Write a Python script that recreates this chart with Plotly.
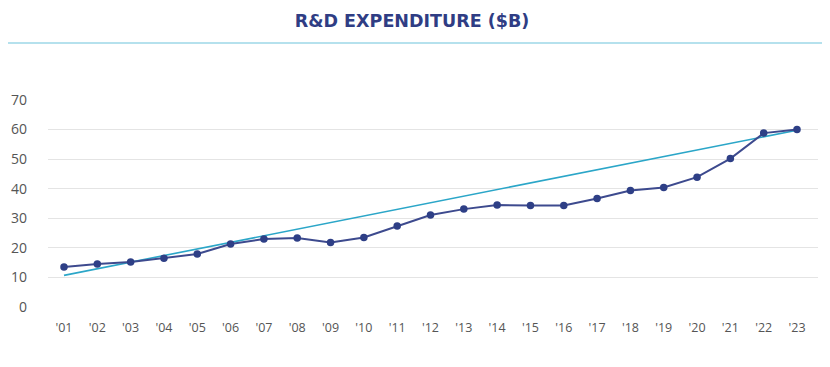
import plotly.graph_objects as go

years = ["'01","'02","'03","'04","'05","'06","'07","'08","'09","'10","'11","'12",
         "'13","'14","'15","'16","'17","'18","'19","'20","'21","'22","'23"]
rd_spend = [13.5, 14.5, 15.2, 16.5, 17.9, 21.3, 23.0, 23.3, 21.8, 23.5, 27.4, 31.1,
            33.1, 34.5, 34.3, 34.3, 36.7, 39.4, 40.4, 43.9, 50.2, 58.8, 60.0]
trend_years = ["'01", "'23"]
trend_values = [10.7, 59.8]
y_ticks = [0, 10, 20, 30, 40, 50, 60, 70]

# page has an 8px body margin; compensate
OFF = 8
W, H = 830 - OFF, 367 - OFF
L, R, T, B = 48 - OFF, 12, 100 - OFF, 60
pw = W - L - R
ph = H - T - B

fig = go.Figure()
fig.add_trace(go.Scatter(x=trend_years, y=trend_values, mode="lines",
                         line=dict(color="#2ba6c8", width=1.6), hoverinfo="skip"))
fig.add_trace(go.Scatter(x=years, y=rd_spend, mode="lines+markers",
                         line=dict(color="#3d4a8e", width=2),
                         marker=dict(color="#2e3f86", size=7.5)))

fig.update_layout(
    width=W, height=H,
    margin=dict(l=L, r=R, t=T, b=B),
    paper_bgcolor="white", plot_bgcolor="white",
    showlegend=False,
    title=dict(text="<b>R&amp;D EXPENDITURE ($B)</b>", xanchor="center",
               y=1 - (21 - OFF) / H, yanchor="middle", xref="paper",
               x=(412 - OFF - L) / pw,
               font=dict(family="DejaVu Sans", size=17.5, color="#2f3d84")),
    font=dict(family="Open Sans", size=13, color="#555555"),
    xaxis=dict(type="category", categoryorder="array", categoryarray=years,
               range=[-0.48, 22.63], showgrid=False, zeroline=False,
               showline=False, ticks="", ticklabelstandoff=11, automargin=False,
               tickfont=dict(size=12.5, color="#555555")),
    yaxis=dict(range=[0, 70], tickvals=y_ticks, showgrid=True, gridcolor="#e4e4e4",
               gridwidth=1, zeroline=False, showline=False, ticks="",
               ticklabelstandoff=20, automargin=False,
               tickfont=dict(size=14, color="#555555")),
    shapes=[dict(type="line", xref="paper", yref="paper",
                 x0=-L / pw - 0.02, x1=(W - L) / pw,
                 y0=(H - B - (43 - OFF)) / ph, y1=(H - B - (43 - OFF)) / ph,
                 line=dict(color="#6cc3dc", width=1.2))],
)

fig.write_html("out.html")
